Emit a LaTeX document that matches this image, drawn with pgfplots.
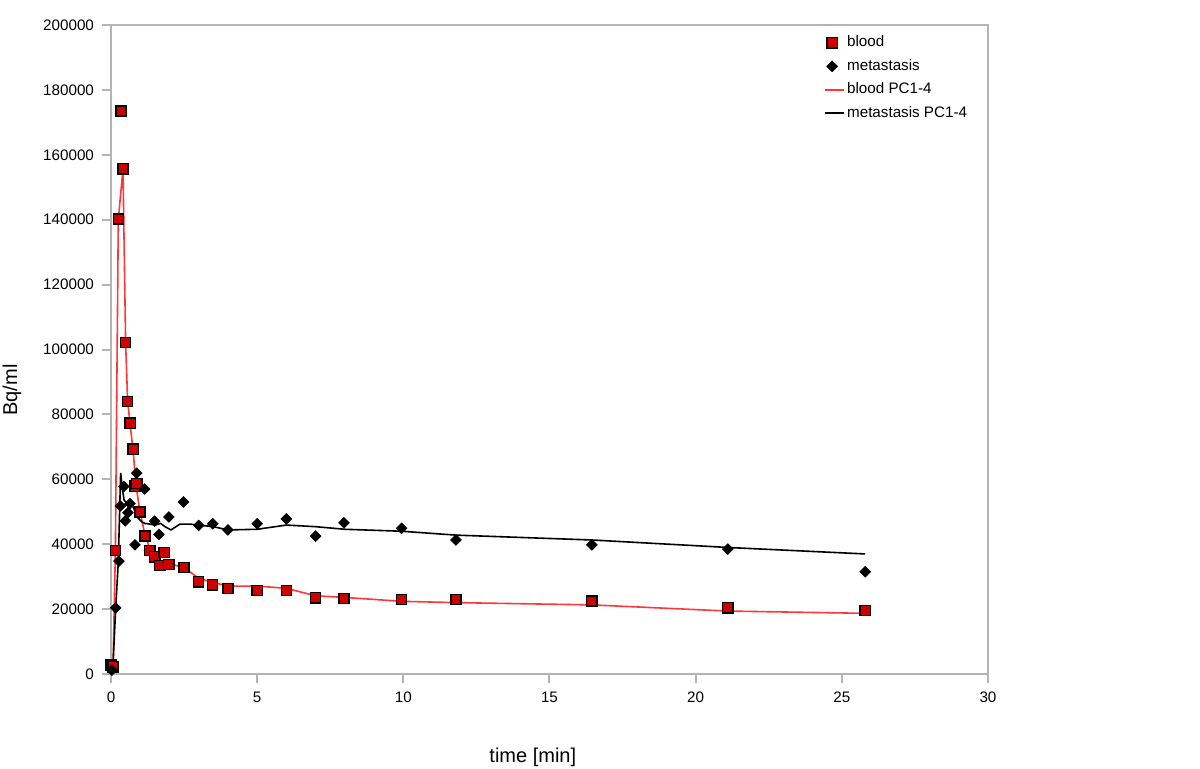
\documentclass[border=0pt]{standalone}
\usepackage{pgfplots}
\pgfplotsset{compat=1.18}
\usepackage{fontspec}
\setmainfont{Liberation Sans}
\definecolor{frame}{RGB}{180,180,180}
\definecolor{bloodfill}{RGB}{205,0,0}
\definecolor{bloodline}{RGB}{255,55,55}
\pgfplotsset{
  markleg/.style={legend image code/.code={\draw[##1] plot coordinates {(3.5pt,0pt)};}},
  lineleg/.style={legend image code/.code={\draw[##1] (0pt,0pt) -- (9.5pt,0pt);}},
}
\begin{document}
\begin{tikzpicture}
\useasboundingbox (-55.5pt,-47pt) rectangle (544.5pt,337pt);
\begin{axis}[
  scale only axis, width=438.5pt, height=324.5pt,
  xmin=0, xmax=30, ymin=0, ymax=200000,
  xtick={0,5,...,30}, ytick={0,20000,...,200000},
  scaled y ticks=false,
  /pgf/number format/.cd, fixed, 1000 sep={}, assume math mode=true, /pgfplots/.cd,
  axis line style={frame, line width=1pt},
  tick style={frame, line width=1pt},
  tick align=outside, major tick length=4.5pt,
  xtick pos=bottom, ytick pos=left,
  tick label style={font=\fontsize{7.6}{9}\selectfont, text=black},
  yticklabel style={xshift=-0.5pt},
  xticklabel style={yshift=-1pt},
  label style={font=\fontsize{7.4}{9}\selectfont},
  every axis x label/.style={at={(axis description cs:0.481,-0.129)},anchor=center},
  every axis y label/.style={at={(axis description cs:-0.113,0.4376)},rotate=90,anchor=center},
  xlabel={time [min]}, ylabel={Bq/ml},
  clip=false,
  legend style={draw=none, fill=none, at={(axis description cs:0.8127,0.987)}, anchor=north west,
    font=\fontsize{7.6}{9}\selectfont, row sep=2.75pt, inner sep=0pt,
    nodes={inner sep=1pt}},
  legend cell align=left,
]
% fitted lines
\addplot[bloodline, line width=0.8pt, forget plot] coordinates {
(0,0)(0.07,2500)(0.15,38000)(0.25,140000)(0.41,155700)(0.5,102000)(0.57,84000)(0.66,76500)(0.76,68500)(0.85,58500)(0.99,50000)(1.16,43000)(1.33,38500)(1.5,36500)(1.67,35000)(1.82,34500)(1.98,34000)(2.5,32800)(3.0,29500)(3.5,28200)(4.0,27100)(5.0,27100)(6.0,26400)(7.0,24100)(8.0,23600)(9.94,22400)(11.8,22000)(16.45,21300)(21.1,19400)(25.8,18700)
};
\addplot[black, line width=0.8pt, forget plot] coordinates {
(0,0)(0.07,3000)(0.16,20200)(0.25,34600)(0.33,62000)(0.39,57000)(0.45,53500)(0.5,53100)(0.7,52600)(0.93,48000)(1.05,46900)(1.16,46400)(1.33,46200)(1.5,45900)(1.7,46400)(1.85,45400)(2.05,44400)(2.36,46200)(2.7,46200)(3.0,45900)(3.5,45400)(4.0,44400)(5.0,44600)(6.0,45900)(7.0,45400)(8.0,44600)(9.94,44000)(11.8,42800)(16.45,41300)(21.1,39000)(25.8,37000)
};
% measured points
\addplot[only marks, mark=square*, mark size=2.55pt, mark options={fill=bloodfill, draw=black, line width=0.7pt}, markleg] coordinates {
(0,2800)(0.07,2200)(0.15,38000)(0.25,140200)(0.34,173500)(0.41,155700)(0.5,102100)(0.57,84000)(0.66,77300)(0.76,69300)(0.82,57900)(0.88,58700)(0.99,49900)(1.16,42500)(1.33,38000)(1.5,36100)(1.67,33500)(1.82,37400)(1.98,33800)(2.5,32800)(3.0,28400)(3.47,27500)(4.0,26300)(5.0,25700)(6.0,25700)(7.0,23500)(7.97,23300)(9.94,23000)(11.8,23000)(16.45,22500)(21.1,20400)(25.8,19600)
};
\addlegendentry{blood}
\addplot[only marks, mark=square*, mark size=1.9pt, mark options={fill=black, draw=black, rotate=45, line width=0.3pt}, markleg] coordinates {
(0.03,1200)(0.16,20400)(0.27,34800)(0.32,51800)(0.44,57800)(0.49,47200)(0.58,49700)(0.65,52500)(0.82,39800)(0.88,61900)(1.15,57000)(1.49,47100)(1.64,43000)(1.98,48400)(2.48,53000)(3.0,45800)(3.48,46300)(4.0,44400)(5.0,46300)(6.0,47800)(7.0,42500)(7.97,46600)(9.94,44900)(11.8,41300)(16.45,39800)(21.1,38500)(25.8,31500)
};
\addlegendentry{metastasis}
\addlegendimage{bloodline, line width=1pt, lineleg}
\addlegendentry{blood PC1-4}
\addlegendimage{black, line width=0.9pt, lineleg}
\addlegendentry{metastasis PC1-4}
\end{axis}
\end{tikzpicture}
\end{document}
